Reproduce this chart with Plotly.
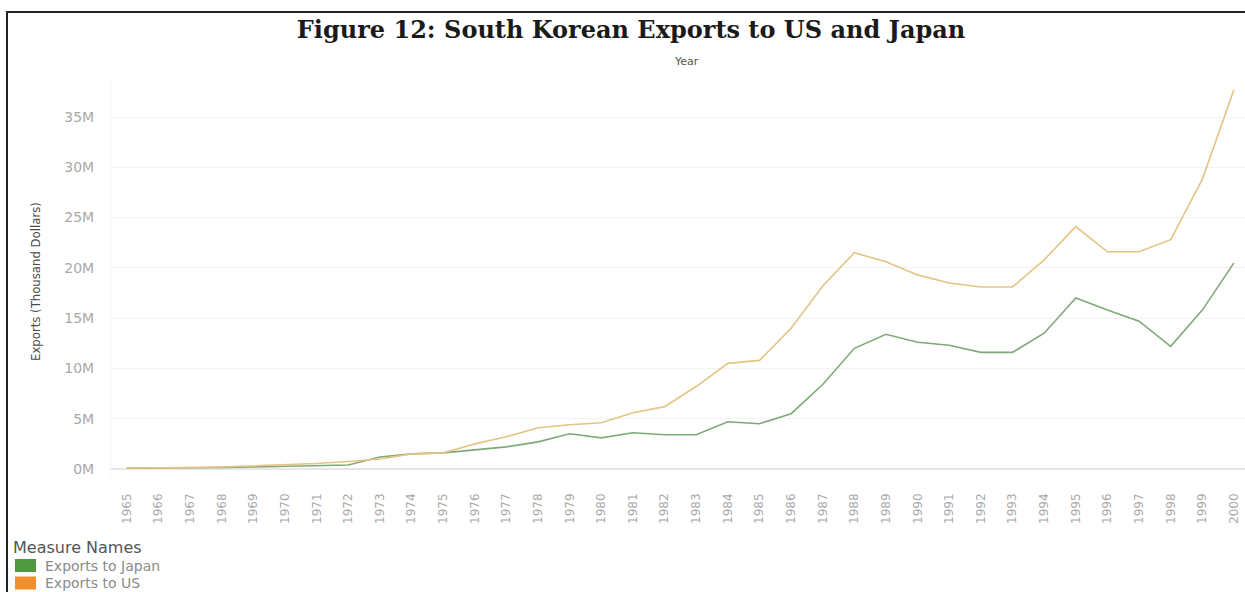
import plotly.graph_objects as go

# South Korean exports, millions of (thousand dollars)
years = list(range(1965, 2001))
exports_japan = [0.1, 0.1, 0.1, 0.15, 0.2, 0.25, 0.3, 0.4, 1.2, 1.5, 1.6,
                 1.9, 2.2, 2.7, 3.5, 3.1, 3.6, 3.4, 3.4, 4.7, 4.5, 5.5,
                 8.4, 12.0, 13.4, 12.6, 12.3, 11.6, 11.6, 13.5, 17.0, 15.8,
                 14.7, 12.2, 15.8, 20.5]
exports_us = [0.1, 0.1, 0.15, 0.2, 0.3, 0.4, 0.55, 0.75, 1.0, 1.5, 1.6,
              2.5, 3.2, 4.1, 4.4, 4.6, 5.6, 6.2, 8.2, 10.5, 10.8, 14.0,
              18.2, 21.5, 20.6, 19.3, 18.5, 18.1, 18.1, 20.8, 24.1, 21.6,
              21.6, 22.8, 28.8, 37.7]
y_ticks = [0, 5, 10, 15, 20, 25, 30, 35]
y_tick_labels = [f"{v}M" for v in y_ticks]

W, H = 1245, 592
ML, MR, MT, MB = 111, 0, 80, 114
PW, PH = W - ML - MR, H - MT - MB
SANS = "DejaVu Sans, Verdana, sans-serif"


def px_x(px):
    return (px - ML) / PW


def px_y(py):
    return (H - MB - py) / PH


fig = go.Figure()
fig.add_trace(go.Scatter(x=years, y=exports_japan, mode="lines",
                         name="Exports to Japan",
                         line=dict(color="#80a979", width=1.6)))
fig.add_trace(go.Scatter(x=years, y=exports_us, mode="lines",
                         name="Exports to US",
                         line=dict(color="#e4c383", width=1.6)))

grey = "#a9a9a9"
fig.update_layout(
    width=W, height=H,
    margin=dict(l=ML, r=MR, t=MT, b=MB),
    paper_bgcolor="white", plot_bgcolor="white",
    showlegend=False,
    title=dict(text="<b>Figure 12: South Korean Exports to US and Japan</b>",
               x=631 / W, xanchor="center", y=1 - 30 / H, yanchor="middle",
               font=dict(family="DejaVu Serif, serif", size=24,
                         color="#1a1a1a")),
    xaxis=dict(range=[1964.5, 1964.5 + (W - ML - MR + 1) / 31.66],
               tickmode="array", tickvals=years,
               ticktext=[str(y) for y in years], tickangle=-90,
               showgrid=False, zeroline=False, ticklabelstandoff=12,
               tickfont=dict(family=SANS, size=12, color=grey)),
    yaxis=dict(range=[-(H - MB - 469) / 10.057, (469 - MT) / 10.057],
               tickmode="array", tickvals=y_ticks, ticktext=y_tick_labels,
               showgrid=True, gridcolor="#f2f2f2", gridwidth=1,
               zeroline=True, zerolinecolor="#e6e6e6", zerolinewidth=1.5,
               showline=True, linecolor="#f5f5f5", ticklabelstandoff=13,
               tickfont=dict(family=SANS, size=14, color=grey)),
)

annotations = [
    dict(text="Year", x=px_x(686), y=px_y(62), xref="paper", yref="paper",
         showarrow=False, xanchor="center", yanchor="middle",
         font=dict(family=SANS, size=11, color="#555")),
    dict(text="Exports (Thousand Dollars)", x=px_x(35), y=px_y(282),
         xref="paper", yref="paper", showarrow=False, textangle=-90,
         xanchor="center", yanchor="middle",
         font=dict(family="Liberation Sans Narrow, DejaVu Sans Condensed, Arial Narrow, sans-serif",
                   size=13, color="#4a4a4a")),
    dict(text="Measure Names", x=px_x(11), y=px_y(547), xref="paper",
         yref="paper", showarrow=False, xanchor="left", yanchor="middle",
         font=dict(family=SANS, size=16, color="#555")),
]
legend_items = [("Exports to Japan", "#4f9a3f", 565.5),
                ("Exports to US", "#f28e2b", 583)]
shapes = []
for label, color, ypos in legend_items:
    shapes.append(dict(type="rect", xref="paper", yref="paper",
                       x0=px_x(15), x1=px_x(36), y0=px_y(ypos - 6.5),
                       y1=px_y(ypos + 6.5), fillcolor=color,
                       line=dict(width=0)))
    annotations.append(dict(text=label, x=px_x(43), y=px_y(ypos),
                            xref="paper", yref="paper", showarrow=False,
                            xanchor="left", yanchor="middle",
                            font=dict(family=SANS, size=14, color="#8a8a8a")))

# outer frame
shapes.append(dict(type="rect", xref="paper", yref="paper",
                   x0=px_x(7), x1=px_x(W + 20), y0=px_y(H + 20),
                   y1=px_y(12), line=dict(color="#222", width=2),
                   fillcolor="rgba(0,0,0,0)"))

fig.update_layout(annotations=annotations, shapes=shapes)
fig.write_html("out.html")
